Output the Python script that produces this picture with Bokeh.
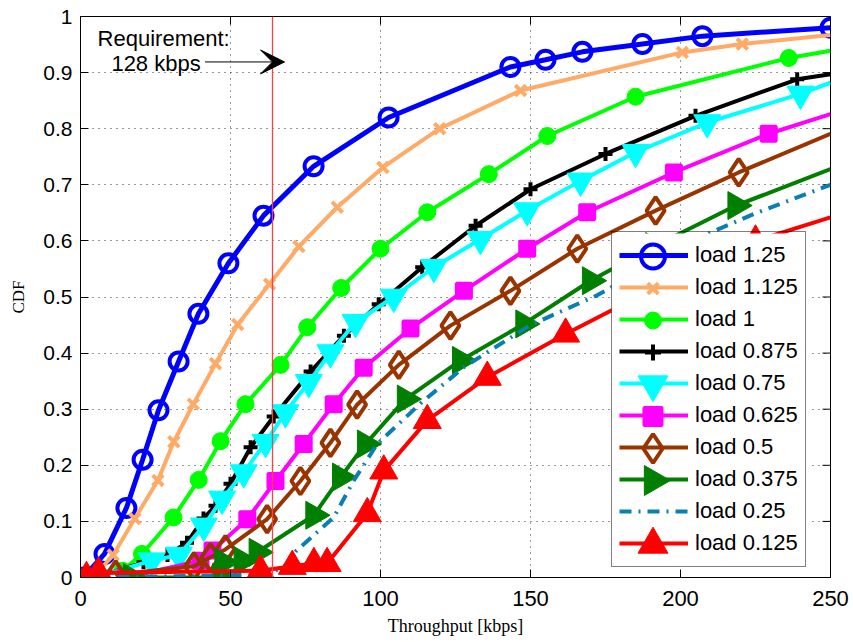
from bokeh.plotting import figure
from bokeh.models import (Range1d, FixedTicker, Span, Label, Arrow, VeeHead,
                          Legend, LegendItem)
from bokeh.embed import file_html
from bokeh.resources import INLINE
import math

# ---------------- data ----------------
x_ticks = [0, 50, 100, 150, 200, 250]
y_ticks = [0, 0.1, 0.2, 0.3, 0.4, 0.5, 0.6, 0.7, 0.8, 0.9, 1]
y_tick_labels = ["0", "0.1", "0.2", "0.3", "0.4", "0.5", "0.6", "0.7", "0.8", "0.9", "1"]

labels = ["load 1.25", "load 1.125", "load 1", "load 0.875", "load 0.75",
          "load 0.625", "load 0.5", "load 0.375", "load 0.25", "load 0.125"]

x_load_1250 = [1, 8, 15.3, 20.7, 26, 32.7, 39.3, 49.3, 61, 77.7, 102.7, 143.3, 155, 167.3, 187.3, 207.3, 250]
y_load_1250 = [0, 0.042, 0.124, 0.21, 0.298, 0.385, 0.47, 0.56, 0.645, 0.733, 0.82, 0.91, 0.923, 0.937, 0.951, 0.965, 0.98]

x_load_1125 = [4, 10.9, 18.1, 25.8, 31.1, 37.6, 45, 52.4, 63, 72.8, 85.6, 100.8, 119.7, 146.7, 200.6, 220.6, 250]
y_load_1125 = [0, 0.04, 0.105, 0.173, 0.242, 0.309, 0.381, 0.451, 0.523, 0.59, 0.66, 0.731, 0.80, 0.868, 0.936, 0.951, 0.967]

x_load_1000 = [14, 20.5, 31, 39.4, 46.7, 55, 66.7, 75.6, 86.9, 100, 115.6, 136.1, 155.6, 185, 236.1, 250]
y_load_1000 = [0.012, 0.042, 0.107, 0.174, 0.243, 0.309, 0.379, 0.446, 0.516, 0.586, 0.651, 0.719, 0.787, 0.857, 0.926, 0.939]

x_load_0875 = [5, 21, 29, 35.5, 41, 45, 50, 56.7, 64.4, 76.7, 87.8, 99.4, 113.9, 131.7, 150, 175, 205, 238.9, 250]
y_load_0875 = [0, 0.027, 0.04, 0.062, 0.105, 0.128, 0.167, 0.232, 0.287, 0.367, 0.431, 0.487, 0.553, 0.627, 0.692, 0.755, 0.823, 0.888, 0.897]

x_load_0750 = [5, 23.7, 32.8, 41.1, 47.2, 54.4, 61.7, 68.3, 76.1, 83.3, 91.7, 104.4, 117.8, 133.3, 148.9, 166.7, 185, 208.9, 240, 250]
y_load_0750 = [0, 0.03, 0.04, 0.092, 0.14, 0.187, 0.241, 0.294, 0.348, 0.401, 0.455, 0.5, 0.553, 0.603, 0.654, 0.707, 0.758, 0.811, 0.862, 0.882]

x_load_0625 = [15, 40, 44, 55.6, 65, 74.4, 84.4, 94.4, 110, 127.8, 148.9, 168.9, 197.8, 229.4, 250]
y_load_0625 = [0, 0.03, 0.048, 0.104, 0.172, 0.238, 0.309, 0.374, 0.444, 0.511, 0.586, 0.651, 0.722, 0.791, 0.826]

x_load_0500 = [11.7, 37.8, 43.3, 48.3, 62.2, 73.3, 83.3, 92.2, 106.1, 123.3, 143.3, 165.6, 191.7, 219.4, 250]
y_load_0500 = [0.005, 0.02, 0.036, 0.05, 0.104, 0.172, 0.24, 0.308, 0.379, 0.449, 0.511, 0.586, 0.654, 0.722, 0.791]

x_load_0375 = [17, 46.7, 47.5, 53.9, 58.9, 77.8, 86.7, 95, 108.3, 126.7, 147.8, 170, 191.1, 218.5, 250]
y_load_0375 = [0, 0, 0.027, 0.03, 0.045, 0.111, 0.179, 0.238, 0.318, 0.387, 0.452, 0.529, 0.59, 0.663, 0.728]

x_load_0250 = [3, 62, 68, 72, 84.4, 91.1, 98.9, 113.3, 127.8, 150, 172.2, 206.7, 224.4, 250]
y_load_0250 = [0, 0.005, 0.02, 0.048, 0.107, 0.173, 0.238, 0.31, 0.375, 0.45, 0.503, 0.607, 0.648, 0.70]

x_load_0125 = [2, 6, 60, 70.6, 77.8, 82.2, 95.6, 101.1, 115.6, 135.6, 161.7, 193, 225, 250]
y_load_0125 = [0, 0.008, 0.012, 0.02, 0.025, 0.025, 0.114, 0.19, 0.28, 0.357, 0.434, 0.52, 0.60, 0.642]

requirement_x = 64

# ---------------- styles ----------------
# lsize: marker size used inside the legend
styles = [
    dict(x=x_load_1250, y=y_load_1250, color="#0000ff", lw=5, marker="circle", size=18, mlw=4, fill=None, dash="solid", mend=True, angle=0, lsize=24),
    dict(x=x_load_1125, y=y_load_1125, color="#ffaa66", lw=4, marker="x", size=15, mlw=4, fill=None, dash="solid", mend=False, angle=0, lsize=15),
    dict(x=x_load_1000, y=y_load_1000, color="#00ff00", lw=4, marker="circle", size=17, mlw=1, fill="#00ff00", dash="solid", mend=False, angle=0, lsize=17),
    dict(x=x_load_0875, y=y_load_0875, color="#000000", lw=4, marker="cross", size=14, mlw=4, fill=None, dash="solid", mend=False, angle=0, lsize=16),
    dict(x=x_load_0750, y=y_load_0750, color="#00ffff", lw=4, marker="inverted_triangle", size=27, mlw=1, fill="#00ffff", dash="solid", mend=False, angle=0, lsize=30),
    dict(x=x_load_0625, y=y_load_0625, color="#ff00ff", lw=4, marker="square", size=15, mlw=3, fill="#ff00ff", dash="solid", mend=False, angle=0, lsize=18),
    dict(x=x_load_0500, y=y_load_0500, color="#993300", lw=4, marker="diamond", size=27, mlw=4, fill=None, dash="solid", mend=False, angle=0, lsize=29),
    dict(x=x_load_0375, y=y_load_0375, color="#007f00", lw=4, marker="triangle", size=28, mlw=1, fill="#007f00", dash="solid", mend=False, angle=-math.pi / 2, lsize=30),
    dict(x=x_load_0250, y=y_load_0250, color="#0a7fb2", lw=4, marker=None, size=0, mlw=0, fill=None, dash="12 7 2 7", mend=False, angle=0, lsize=0),
    dict(x=x_load_0125, y=y_load_0125, color="#ff0000", lw=4, marker="triangle", size=28, mlw=1, fill="#ff0000", dash="solid", mend=False, angle=0, lsize=30),
]

# ---------------- layout ----------------
W, H = 853, 642
BL, BR, BT, BB = 80, 23, 16, 65
FRAME_W, FRAME_H = W - BL - BR, H - BT - BB

p = figure(width=W, height=H, output_backend="svg", toolbar_location=None,
           x_range=Range1d(0, 250), y_range=Range1d(0, 1),
           min_border_left=BL, min_border_right=BR, min_border_top=BT, min_border_bottom=BB)
p.background_fill_color = "white"
p.border_fill_color = "white"
p.outline_line_color = "black"
p.outline_line_width = 1

xticker = FixedTicker(ticks=x_ticks)
yticker = FixedTicker(ticks=y_ticks)
p.xaxis.ticker = xticker
p.yaxis.ticker = yticker
p.yaxis.major_label_overrides = {t: l for t, l in zip(y_ticks, y_tick_labels)}
for ax in (p.xaxis, p.yaxis):
    ax.major_tick_in = 8
    ax.major_tick_out = 0
    ax.minor_tick_line_color = None
    ax.axis_line_color = "black"
    ax.major_tick_line_color = "black"
    ax.major_label_text_font = "Liberation Sans"
    ax.major_label_text_color = "black"
    ax.axis_label_text_font = "Liberation Serif"
    ax.axis_label_text_font_style = "normal"
    ax.axis_label_text_color = "black"
p.xaxis.major_label_text_font_size = "22px"
p.yaxis.major_label_text_font_size = "21px"
p.xaxis.major_label_standoff = 13
p.yaxis.major_label_standoff = 8
p.xaxis.axis_label = "Throughput [kbps]"
p.yaxis.axis_label = "CDF"
p.xaxis.axis_label_text_font_size = "18px"
p.yaxis.axis_label_text_font_size = "17px"
p.xaxis.axis_label_standoff = 7
p.yaxis.axis_label_standoff = 12

p.xgrid.ticker = xticker
p.ygrid.ticker = yticker
p.grid.grid_line_color = "#333333"
p.grid.grid_line_dash = "1 5"
p.grid.grid_line_width = 1

# inward ticks on the top and right edges (half of each dash is clipped by the frame)
p.scatter(x_ticks, [p.y_range.end] * len(x_ticks), marker="dash", angle=math.pi / 2, size=16,
          line_color="black", line_width=1)
p.scatter([p.x_range.end] * len(y_ticks), y_ticks, marker="dash", size=16,
          line_color="black", line_width=1)

line_items = []
for lab, s in zip(labels, styles):
    r_line = p.line(s["x"], s["y"], line_color=s["color"], line_width=s["lw"], line_dash=s["dash"])
    line_items.append(LegendItem(label=lab, renderers=[r_line]))
    if s["marker"] is not None:
        mx = s["x"] if s["mend"] else s["x"][:-1]
        my = s["y"] if s["mend"] else s["y"][:-1]
        p.scatter(mx, my, marker=s["marker"], size=s["size"], angle=s["angle"],
                  line_color=s["color"], line_width=s["mlw"],
                  fill_color=s["fill"], fill_alpha=1 if s["fill"] else 0)

# requirement line and annotation
p.add_layout(Span(location=requirement_x, dimension="height", line_color="#ff4040", line_width=1.3))
p.add_layout(Label(x=5.7, y=0.961, text="Requirement:", text_font="Liberation Sans",
                   text_font_size="22px", text_baseline="middle", text_color="black"))
p.add_layout(Label(x=10.3, y=0.917, text="128 kbps", text_font="Liberation Sans",
                   text_font_size="22px", text_baseline="middle", text_color="black"))
p.add_layout(Arrow(end=VeeHead(size=24, fill_color="black", line_color="black"),
                   x_start=41.5, y_start=0.919, x_end=68, y_end=0.919,
                   line_color="black", line_width=1))

# ---------------- legend ----------------
LEG_X, LEG_Y, PAD, ROW, GW, LEG_W = 531, 10, 7, 32, 69, 200
n = len(labels)
LEG_H = 2 * PAD + n * ROW


def frame_px_to_x(px):
    return p.x_range.start + px / FRAME_W * (p.x_range.end - p.x_range.start)


def frame_px_to_y(py):
    return p.y_range.start + py / FRAME_H * (p.y_range.end - p.y_range.start)


# opaque white legend background, drawn over the curves
p.quad(left=[frame_px_to_x(LEG_X)], right=[frame_px_to_x(LEG_X + LEG_W)],
       bottom=[frame_px_to_y(LEG_Y)], top=[frame_px_to_y(LEG_Y + LEG_H)],
       fill_color="white", line_color=None)

# legend markers at full size, at the centre of each glyph slot
for i, s in enumerate(styles):
    if s["marker"] is None:
        continue
    cx = LEG_X + PAD + GW / 2
    cy = LEG_Y + PAD + (n - 1 - i) * ROW + ROW / 2
    p.scatter([frame_px_to_x(cx)], [frame_px_to_y(cy)], marker=s["marker"], size=s["lsize"],
              angle=s["angle"], line_color=s["color"], line_width=s["mlw"],
              fill_color=s["fill"], fill_alpha=1 if s["fill"] else 0)

# border, line samples and labels (transparent background so the markers show)
legend = Legend(items=line_items, location=(LEG_X, LEG_Y), border_line_color="black",
                border_line_width=1.5, label_text_font="Liberation Sans", label_text_font_size="22px",
                label_text_color="black",
                glyph_width=GW, glyph_height=ROW, label_height=ROW, spacing=0, padding=PAD,
                label_standoff=7, background_fill_alpha=0, margin=0)
p.add_layout(legend)

open("out.html", "w").write(file_html(p, INLINE))
